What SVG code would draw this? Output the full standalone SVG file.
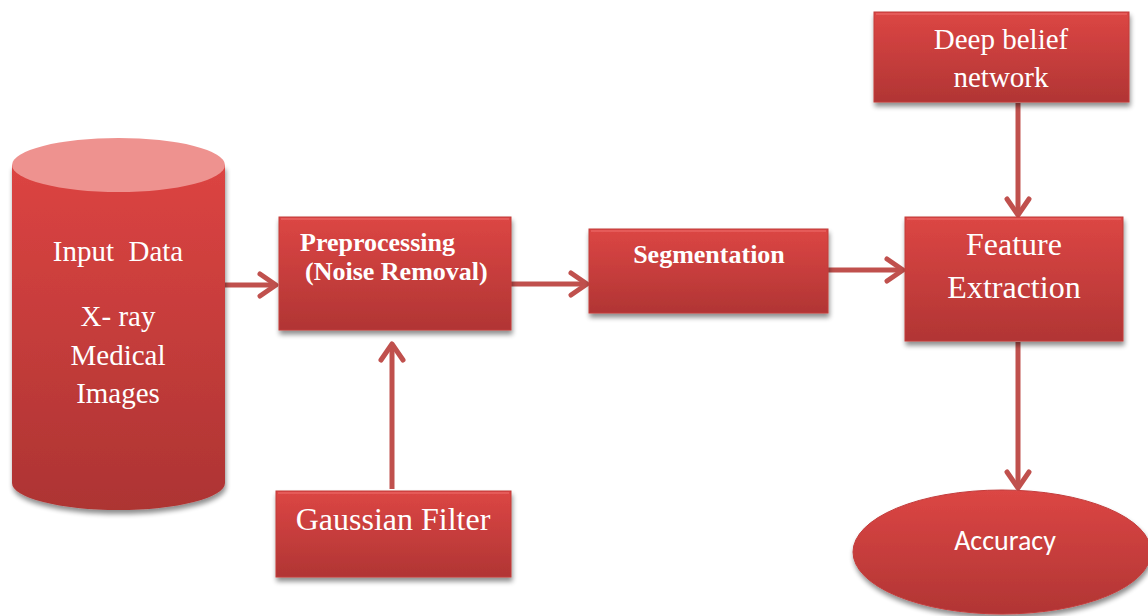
<svg xmlns="http://www.w3.org/2000/svg" width="1148" height="616" viewBox="0 0 1148 616">
<defs>
<linearGradient id="red" x1="0" y1="0" x2="0" y2="1">
<stop offset="0" stop-color="#dc4644"/>
<stop offset="1" stop-color="#b13534"/>
</linearGradient>
<linearGradient id="cyl" x1="0" y1="0" x2="0" y2="1">
<stop offset="0" stop-color="#dc4442"/>
<stop offset="1" stop-color="#ad3433"/>
</linearGradient>
<filter id="sh" x="-10%" y="-10%" width="125%" height="130%">
<feGaussianBlur in="SourceAlpha" stdDeviation="2.5"/>
<feOffset dx="1" dy="4" result="b"/>
<feComponentTransfer><feFuncA type="linear" slope="0.45"/></feComponentTransfer>
<feMerge><feMergeNode/><feMergeNode in="SourceGraphic"/></feMerge>
</filter>
<marker id="ah" viewBox="0 0 12 14" refX="10" refY="7" markerWidth="4.8" markerHeight="5.6" orient="auto" markerUnits="strokeWidth">
<path d="M2,1.5 L10,7 L2,12.5" fill="none" stroke="#c0504d" stroke-width="2.5" stroke-linecap="round" stroke-linejoin="round"/>
</marker>
<style>
.box{fill:url(#red);stroke:#c23c3b;stroke-width:1;filter:url(#sh)}
.hi{fill:none;stroke:#ea6462;stroke-width:2;opacity:0.7}
.t{font-family:"Liberation Serif",serif;fill:#ffffff;text-anchor:middle}
.b{font-weight:bold;font-size:26px;text-anchor:start}
.c{stroke:#c0504d;stroke-width:5;fill:none;marker-end:url(#ah)}
</style>
</defs>
<rect width="1148" height="616" fill="#ffffff"/>
<g id="connectors">
<line class="c" x1="225" y1="285" x2="276" y2="285"/>
<line class="c" x1="511" y1="284" x2="587" y2="284"/>
<line class="c" x1="828" y1="270" x2="903" y2="270"/>
<line class="c" x1="1018" y1="103" x2="1018" y2="215"/>
<line class="c" x1="392" y1="489" x2="392" y2="344"/>
<line class="c" x1="1018" y1="342" x2="1018" y2="488"/>
</g>
<g id="input-data">
<path d="M12,165 L12,483 A106.5,27 0 0 0 225,483 L225,165 Z" fill="url(#cyl)" filter="url(#sh)"/>
<ellipse cx="118.5" cy="165" rx="106.5" ry="27" fill="#ee928f"/>
<text class="t" x="118" y="261" font-size="29" xml:space="preserve">Input  Data</text>
<text class="t" x="118" y="326" font-size="29">X- ray</text>
<text class="t" x="118" y="365" font-size="29">Medical</text>
<text class="t" x="118" y="403" font-size="29">Images</text>
</g>
<g id="preprocessing">
<rect class="box" x="279" y="217" width="232" height="113"/>
<path class="hi" d="M281,219 L509,219"/>
<text class="t b" x="300" y="251">Preprocessing</text>
<text class="t b" x="305" y="280">(Noise Removal)</text>
</g>
<g id="segmentation">
<rect class="box" x="589" y="229" width="239" height="84"/>
<path class="hi" d="M591,231 L826,231"/>
<text class="t b" x="709" y="263" style="text-anchor:middle">Segmentation</text>
</g>
<g id="feature-extraction">
<rect class="box" x="905" y="217" width="218" height="124"/>
<path class="hi" d="M907,219 L1121,219"/>
<text class="t" x="1014" y="255" font-size="32">Feature</text>
<text class="t" x="1014" y="298" font-size="32">Extraction</text>
</g>
<g id="deep-belief">
<rect class="box" x="874" y="12" width="255" height="90"/>
<path class="hi" d="M876,14 L1127,14"/>
<text class="t" x="1001" y="49" font-size="29">Deep belief</text>
<text class="t" x="1001" y="87" font-size="29">network</text>
</g>
<g id="gaussian-filter">
<rect class="box" x="276" y="491" width="235" height="86"/>
<path class="hi" d="M278,493 L509,493"/>
<text class="t" x="393" y="530" font-size="32">Gaussian Filter</text>
</g>
<g id="accuracy">
<ellipse cx="1002" cy="552" rx="149" ry="62" fill="url(#red)" stroke="#c23c3b" stroke-width="1" filter="url(#sh)"/>
<text x="1005" y="550" font-family="Carlito, 'Liberation Sans', sans-serif" font-size="28" fill="#ffffff" text-anchor="middle">Accuracy</text>
</g>
</svg>
